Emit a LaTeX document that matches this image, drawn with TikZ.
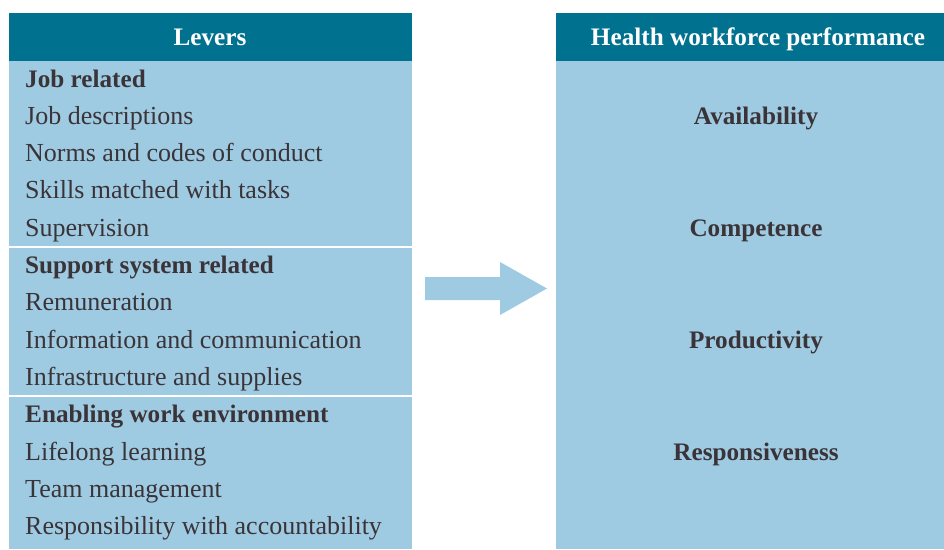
\documentclass[tikz,border=0pt]{standalone}
\usepackage{fontspec}
\setmainfont{Liberation Serif}
\usetikzlibrary{positioning}
\definecolor{leverhead}{RGB}{0,113,143}
\definecolor{leverbody}{RGB}{159,203,226}
\definecolor{levertext}{RGB}{58,52,56}
\tikzset{
	item/.style={anchor=base west,inner sep=0pt,text=levertext,font=\fontsize{26}{30}\selectfont},
	group/.style={item,font=\fontsize{25.2}{30}\selectfont\bfseries},
	outcome/.style={anchor=base,inner sep=0pt,text=levertext,font=\fontsize{25.2}{30}\selectfont\bfseries},
	headtext/.style={anchor=base,inner sep=0pt,text=white,font=\fontsize{25.2}{30}\selectfont\bfseries},
}

\begin{document}
\begin{tikzpicture}[x=1pt,y=-1pt]
	\useasboundingbox (0,0) rectangle (944,549);
	\fill [fill=leverbody] (9,61) rectangle (412,549);
	\fill [fill=leverhead] (9,13) rectangle (412,61);
	\fill [fill=leverbody] (556,61) rectangle (944,549);
	\fill [fill=leverhead] (556,13) rectangle (944,61);
	\draw [white,line width=1.5pt] (9,247) -- (412,247);
	\draw [white,line width=1.5pt] (9,396) -- (412,396);
	\fill [fill=leverbody] (425,277) -- (500,277) -- (500,262) -- (547,288.5) -- (500,315) -- (500,300) -- (425,300) -- cycle;
	\node [headtext] (levers) at (210,45) {Levers};
	\node [headtext] (perf) at (758,45) {Health workforce performance};
	\foreach \txt/\sty [count=\i from 0] in {Job related/group, Job descriptions/item, Norms and codes of conduct/item, Skills matched with tasks/item, Supervision/item, Support system related/group, Remuneration/item, Information and communication/item, Infrastructure and supplies/item, Enabling work environment/group, Lifelong learning/item, Team management/item, Responsibility with accountability/item}
		\node [\sty] (lever\i) at (25,87+37.3*\i) {\txt};
	\foreach \txt [count=\i from 0] in {Availability, Competence, Productivity, Responsiveness}
		\node [outcome] (perf\i) at (756,124.3+111.9*\i) {\txt};
\end{tikzpicture}
\end{document}
